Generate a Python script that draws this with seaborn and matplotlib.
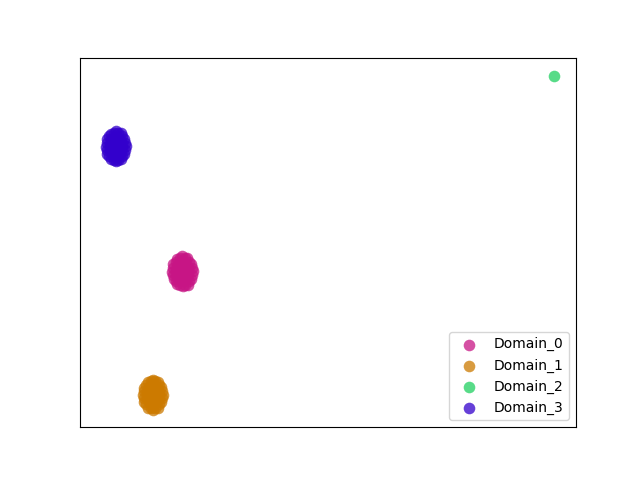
import pandas as pd
import numpy as np
import matplotlib
matplotlib.use("Agg")
import matplotlib.pyplot as plt
import seaborn as sns

domains = ["Domain_0", "Domain_1", "Domain_2", "Domain_3"]
colors = ["#C71585", "#CC7A00", "#20D060", "#3300CC"]

# embedding coordinates
d0_x = [-10.75, -10.9, -11.3, -11.8, -12.3, -12.7, -12.85, -12.65, -12.3, -11.75, -11.25, -10.9,
        -10.87, -11.12, -11.55, -12.05, -12.48, -12.73, -12.73, -12.48, -12.05, -11.55, -11.12, -10.87,
        -11.2, -11.4, -11.65, -11.95, -12.2, -12.4, -12.4, -12.2, -11.95, -11.65, -11.4, -11.2,
        -11.55, -12.05, -11.8, -11.8, -11.8]
d0_y = [-3.1, -2.4, -1.85, -1.65, -1.9, -2.4, -3.2, -3.95, -4.45, -4.65, -4.5, -3.9,
        -2.79, -2.17, -1.82, -1.82, -2.17, -2.79, -3.51, -4.13, -4.48, -4.48, -4.13, -3.51,
        -2.9, -2.5, -2.3, -2.3, -2.5, -2.9, -3.4, -3.8, -4.0, -4.05, -3.8, -3.4,
        -3.15, -3.1, -2.75, -3.55, -3.15]

d1_x = [-13.75, -13.9, -14.25, -14.7, -15.25, -15.6, -15.75, -15.6, -15.25, -14.75, -14.25, -13.9,
        -13.86, -14.1, -14.51, -14.99, -15.4, -15.64, -15.64, -15.4, -14.99, -14.51, -14.1, -13.86,
        -14.15, -14.35, -14.6, -14.9, -15.15, -15.35, -15.35, -15.15, -14.9, -14.6, -14.35, -14.15,
        -14.5, -15.0, -14.75, -14.75, -14.75]
d1_y = [-15.5, -14.7, -14.15, -13.95, -14.2, -14.75, -15.45, -16.2, -16.75, -16.95, -16.75, -16.2,
        -15.09, -14.47, -14.12, -14.12, -14.47, -15.09, -15.81, -16.43, -16.78, -16.78, -16.43, -15.81,
        -15.2, -14.8, -14.6, -14.6, -14.8, -15.2, -15.7, -16.1, -16.3, -16.3, -16.1, -15.7,
        -15.45, -15.45, -15.05, -15.85, -15.45]

d2_x = [25.35]
d2_y = [16.4]

d3_x = [-17.45, -17.6, -17.95, -18.45, -18.95, -19.3, -19.45, -19.3, -18.9, -18.4, -17.95, -17.6,
        -17.56, -17.8, -18.21, -18.69, -19.1, -19.34, -19.34, -19.1, -18.69, -18.21, -17.8, -17.56,
        -17.85, -18.0, -18.3, -18.6, -18.9, -19.05, -19.0, -18.85, -18.6, -18.3, -18.05, -17.85,
        -18.2, -18.7, -18.45, -18.45, -18.45]
d3_y = [9.35, 10.1, 10.65, 10.85, 10.6, 10.1, 9.3, 8.6, 8.05, 7.85, 8.05, 8.6,
        9.71, 10.33, 10.68, 10.68, 10.33, 9.71, 8.99, 8.37, 8.02, 8.02, 8.37, 8.99,
        9.6, 10.0, 10.2, 10.2, 10.0, 9.6, 9.1, 8.7, 8.5, 8.45, 8.7, 9.1,
        9.35, 9.4, 9.75, 8.95, 9.35]

xs = [d0_x, d1_x, d2_x, d3_x]
ys = [d0_y, d1_y, d2_y, d3_y]

fig, ax = plt.subplots(figsize=(6.4, 4.8), dpi=100)
for name, col, x, y in zip(domains, colors, xs, ys):
    sns.scatterplot(x=x, y=y, color=col, s=70, alpha=0.75, linewidth=0,
                    label=name, legend=False, ax=ax)
ax.set_xlim(-22.05, 27.6)
ax.set_ylim(-18.7, 18.2)
ax.set_xticks([])
ax.set_yticks([])
ax.set_xlabel("")
ax.set_ylabel("")
ax.legend(loc="lower right")
fig.savefig("out.png", dpi=100)
